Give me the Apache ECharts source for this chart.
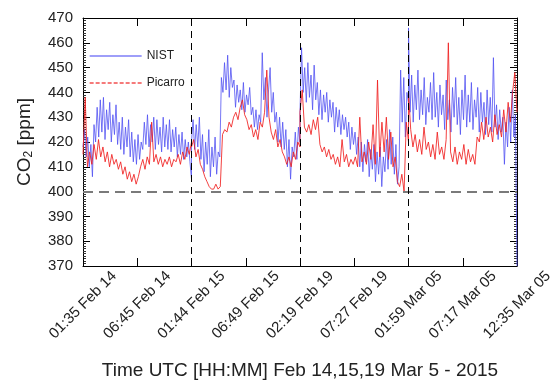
<!DOCTYPE html>
<html>
<head>
<meta charset="utf-8">
<script src="https://cdn.jsdelivr.net/npm/echarts@6/dist/echarts.min.js"></script>
<style>html,body{margin:0;padding:0;background:#fff;}#c{width:558px;height:385px;}</style>
</head>
<body>
<div id="c"></div>
<script>
const tickLabels = ['01:35 Feb 14','06:45 Feb 14','01:44 Feb 15','06:49 Feb 15','02:19 Feb 19','07:27 Feb 19','01:59 Mar 05','07:17 Mar 05','12:35 Mar 05'];
const yTicks = [370,380,390,400,410,420,430,440,450,460,470];

const nistFeb14 = [418,425,414,422,410,419,406,427,420,434,422,437,424,438,421,433,425,436,420,431,423,435,419,428,417,430,415,426,418,429,414,424,412,421,411,423,413,420,417,428,419,431,418,427,420,430,417,429,419,426,416,430,418,427,417,429,416,425,418,426,414,423,415,424,413,421,414,420,412,405];
const nistFeb15 = [420,429,417,427,418,430,413,423,408,420,411,425,406,418,410,422,407,416,414,446,440,452,441,455,438,450,442,445,434,443,436,441,433,444,432,439,435,442,431,434,426,433,425,431,428,456,437,446,430,441,450,432,440,428,432,420,430,418,428,417,425,410,421,405,418,414,424,413,426,420];
const nistFeb19 = [432,458,440,450,436,452,438,447,433,451,437,444,431,441,429,439,432,440,428,437,430,436,424,434,426,433,423,431,425,430,422,428,417,426,419,424,415,422,410,420,408,419,412,421,406,417,409,419,404,416,407,418,402,414,408,421,409,425,411,422,407,419,403,410,449,428,446,422,440,436];
const nistMar05 = [466,432,447,428,443,433,449,429,441,431,446,427,438,432,444,429,448,430,440,426,443,431,439,425,445,429,437,424,442,430,446,427,438,423,441,429,447,426,439,428,444,425,437,430,442,424,440,428,436,423,441,427,438,424,454,426,435,421,433,424,430,411,428,418,434,420,441,422,431,370];

const picFeb14 = [415,438,410,416,411,419,413,421,414,418,412,416,410,415,411,413,409,412,407,410,405,408,404,407,403,406,410,413,409,414,411,428,412,415,411,414,410,413,411,414,410,413,412,415,411,416,413,418,415,420];
const picFeb15 = [418,421,414,417,411,409,406,404,402,401,401,403,401,402,423,425,424,428,426,430,432,429,434,437,431,429,425,427,422,425,421,428,426,432,449,430,424,421,425,418,421,416,414,411,414,410,416,413,420,418];
const picFeb19 = [432,441,426,424,427,423,429,425,430,419,416,418,414,417,413,415,411,414,410,421,412,415,410,413,411,414,410,430,412,416,411,420,413,427,411,445,414,428,416,430,413,424,410,414,404,402,407,400,428,420];
const picMar05 = [440,425,418,423,416,421,415,426,417,420,414,419,413,424,415,418,413,421,460,416,412,418,411,416,413,419,411,417,412,415,411,422,420,428,421,430,422,426,420,431,423,427,422,433,424,436,428,440,448,432];

const FONT = 'Liberation Sans, Arial, Helvetica, sans-serif';

function build(segs) {
  const out = [];
  segs.forEach((seg, s) => {
    seg.forEach((v, j) => { out.push([2 * s + 2 * j / (seg.length - 1), v]); });
  });
  return out;
}

const chart = echarts.init(document.getElementById('c'), null, {renderer: 'canvas'});
const vdash = {color: '#000', type: [7, 5], width: 1};
const yTickOpt = {show: true, inside: true, length: 7, customValues: yTicks, lineStyle: {color: '#000', width: 1}};
const yMinorOpt = {show: true, splitNumber: 10, length: 3, lineStyle: {color: '#333', width: 1}};
chart.setOption({
  animation: false,
  backgroundColor: '#fff',
  textStyle: {fontFamily: FONT, color: '#222'},
  grid: {left: 83, right: 41, top: 18, bottom: 118},
  legend: {
    orient: 'vertical', left: 84, top: 45, itemWidth: 52, itemHeight: 14, itemGap: 15,
    textStyle: {fontFamily: FONT, fontSize: 12, color: '#222'},
    itemStyle: {opacity: 0},
    data: [
      {name: 'NIST', itemStyle: {opacity: 0}, lineStyle: {color: '#5a5af5', width: 1.3, type: 'solid'}},
      {name: 'Picarro', itemStyle: {opacity: 0}, lineStyle: {color: '#f03030', width: 1.3, type: [4, 2]}}
    ]
  },
  xAxis: [
    {
      type: 'value', min: 0, max: 8, interval: 1, position: 'bottom',
      axisLine: {show: true, onZero: false, lineStyle: {color: '#000', width: 1}},
      axisTick: {show: true, inside: true, length: 8, lineStyle: {color: '#000', width: 1}},
      splitLine: {show: false},
      axisLabel: {
        show: true, rotate: 45, align: 'center', verticalAlign: 'middle', margin: 39,
        fontFamily: FONT, fontSize: 15, color: '#222', hideOverlap: false,
        showMinLabel: true, showMaxLabel: true,
        formatter: v => tickLabels[Math.round(v)]
      },
      name: 'Time UTC [HH:MM] Feb 14,15,19 Mar 5 - 2015',
      nameLocation: 'middle', nameGap: 95,
      nameTextStyle: {fontFamily: FONT, fontSize: 19, color: '#222'}
    },
    {
      type: 'value', min: 0, max: 8, interval: 1, position: 'top',
      axisLine: {show: true, onZero: false, lineStyle: {color: '#000', width: 1}},
      axisTick: {show: true, inside: true, length: 8, lineStyle: {color: '#000', width: 1}},
      splitLine: {show: false}, axisLabel: {show: false}
    }
  ],
  yAxis: [
    {
      type: 'value', min: 370, max: 470, interval: 10, position: 'left',
      axisLine: {show: true, onZero: false, lineStyle: {color: '#000', width: 1}},
      axisTick: yTickOpt,
      minorTick: yMinorOpt,
      splitLine: {show: false},
      axisLabel: {fontFamily: FONT, fontSize: 15, color: '#222', margin: 10},
      name: '{a|CO}{s|2}{a| [ppm]}', nameLocation: 'middle', nameGap: 48,
      nameTextStyle: {
        fontFamily: FONT, fontSize: 19, color: '#222',
        rich: {a: {fontFamily: FONT, fontSize: 19, color: '#222'}, s: {fontFamily: FONT, fontSize: 12, color: '#222', padding: [9, 0, 0, 0]}}
      }
    },
    {
      type: 'value', min: 370, max: 470, interval: 10, position: 'right',
      axisLine: {show: true, onZero: false, lineStyle: {color: '#000', width: 1}},
      axisTick: yTickOpt,
      minorTick: yMinorOpt,
      splitLine: {show: false}, axisLabel: {show: false}
    }
  ],
  series: [
    {
      name: 'NIST', type: 'line', xAxisIndex: 0, yAxisIndex: 0, symbol: 'none',
      data: build([nistFeb14, nistFeb15, nistFeb19, nistMar05]),
      lineStyle: {color: '#4f4ff2', width: 1, opacity: 0.78},
      itemStyle: {color: '#5a5af5'},
      z: 2
    },
    {
      name: 'Picarro', type: 'line', xAxisIndex: 0, yAxisIndex: 0, symbol: 'none',
      data: build([picFeb14, picFeb15, picFeb19, picMar05]),
      lineStyle: {color: '#f02020', width: 1, opacity: 0.85},
      itemStyle: {color: '#f03030'},
      z: 3,
      markLine: {
        silent: true, symbol: ['none', 'none'], label: {show: false},
        data: [
          {yAxis: 400, lineStyle: {color: '#7a7a7a', type: [10, 6], width: 2}},
          {xAxis: 2, lineStyle: vdash},
          {xAxis: 4, lineStyle: vdash},
          {xAxis: 6, lineStyle: vdash}
        ]
      }
    }
  ]
});
</script>
</body>
</html>
